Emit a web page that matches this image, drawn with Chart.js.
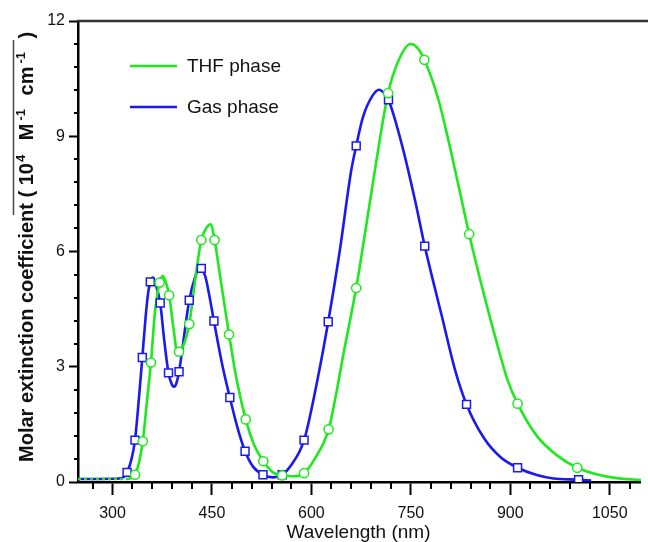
<!DOCTYPE html>
<html>
<head>
<meta charset="utf-8">
<script src="https://cdn.jsdelivr.net/npm/chart.js@4.4.1/dist/chart.umd.min.js"></script>
<style>
  html, body { margin: 0; padding: 0; background: #fff; overflow: hidden; }
  #wrap { width: 648px; height: 542px; position: relative; }
</style>
</head>
<body>
<div id="wrap"><canvas id="c" width="648" height="542"></canvas></div>
<script>
// Absorption spectra: wavelength (nm) vs molar extinction coefficient (10^4 M^-1 cm^-1)

// Gas phase spectrum (line)
const gasNm  = [248, 280, 310, 318, 322, 328, 334, 340, 345, 350, 354, 357, 361, 365, 372, 378, 384.5, 390, 393, 396, 400.4, 408, 415.8, 425, 432, 434, 440, 445, 453, 465, 477, 488, 500, 512, 527, 542, 556, 570, 589, 608, 625.4, 643, 660, 667.6, 678, 692, 702, 710, 716.3, 737, 757, 771, 797, 817, 834, 860, 885, 911, 940, 965, 1003, 1022];
const gasVal = [0.08, 0.08, 0.09, 0.14, 0.25, 0.55, 1.09, 2.2, 3.24, 4.3, 4.95, 5.21, 5.32, 5.15, 4.66, 3.7, 2.84, 2.52, 2.48, 2.55, 2.87, 3.8, 4.73, 5.35, 5.58, 5.56, 5.35, 4.95, 4.19, 3.1, 2.2, 1.45, 0.8, 0.4, 0.19, 0.12, 0.19, 0.45, 1.09, 2.56, 4.17, 6.04, 8.1, 8.75, 9.51, 10.05, 10.21, 10.12, 9.95, 8.75, 7.28, 6.14, 4.3, 2.9, 2.02, 1.15, 0.65, 0.37, 0.18, 0.09, 0.06, 0.04];

// Gas phase markers
const gasMarkNm  = [322, 334, 345, 357, 372, 384.5, 400.4, 415.8, 434, 453, 477, 500, 527, 556, 589, 625.4, 667.6, 716.3, 771, 834, 911, 1003];
const gasMarkVal = [0.25, 1.09, 3.24, 5.21, 4.66, 2.84, 2.87, 4.73, 5.56, 4.19, 2.2, 0.8, 0.19, 0.19, 1.09, 4.17, 8.75, 9.95, 6.14, 2.02, 0.37, 0.06];

// THF phase spectrum (line)
const thfNm  = [248, 300, 322, 330, 334, 340, 345.7, 352, 358, 364, 371, 376, 380, 385.5, 392, 398, 400.4, 408, 415.8, 425, 434, 442, 448, 454, 462, 475.8, 488, 501, 514, 527.5, 542, 556, 572, 589, 605, 626, 638, 648, 667.6, 676.6, 697.5, 715.7, 732, 749.6, 760, 770.4, 791.7, 806.6, 824, 838, 860, 880, 896, 911, 940, 970, 1001, 1030, 1060, 1097];
const thfVal = [0.08, 0.08, 0.08, 0.12, 0.19, 0.5, 1.06, 2.1, 3.11, 4.4, 5.19, 5.36, 5.22, 4.86, 4.0, 3.37, 3.39, 3.6, 4.11, 5.3, 6.3, 6.62, 6.71, 6.3, 5.4, 3.84, 2.6, 1.63, 0.95, 0.54, 0.25, 0.17, 0.15, 0.23, 0.6, 1.37, 2.35, 3.3, 5.05, 6.0, 8.3, 10.12, 10.99, 11.4, 11.3, 10.99, 9.95, 8.9, 7.55, 6.45, 4.9, 3.6, 2.65, 2.04, 1.2, 0.7, 0.37, 0.2, 0.1, 0.05];

// THF phase markers
const thfMarkNm  = [334, 345.7, 358, 371, 385.5, 400.4, 415.8, 434, 454, 475.8, 501, 527.5, 556, 589, 626, 667.6, 715.7, 770.4, 838, 911, 1001];
const thfMarkVal = [0.19, 1.06, 3.11, 5.19, 4.86, 3.39, 4.11, 6.3, 6.3, 3.84, 1.63, 0.54, 0.17, 0.23, 1.37, 5.05, 10.12, 10.99, 6.45, 2.04, 0.37];

// Axis ticks
const xMajorTicks = [300, 450, 600, 750, 900, 1050];
const xMinorTicks = [270, 330, 360, 390, 420, 480, 510, 540, 570, 630, 660, 690, 720, 780, 810, 840, 870, 930, 960, 990, 1020, 1080];
const yMajorTicks = [0, 3, 6, 9, 12];
const yMinorTicks = [0.6, 1.2, 1.8, 2.4, 3.6, 4.2, 4.8, 5.4, 6.6, 7.2, 7.8, 8.4, 9.6, 10.2, 10.8, 11.4];

const seriesNames = ['THF phase', 'Gas phase'];
const GREEN = '#1fe81f';
const BLUE = '#1a1af0';

const toXY = (xs, ys) => xs.map((x, i) => ({ x, y: ys[i] }));

const FONT = '"Liberation Sans", Arial, sans-serif';

// Minor ticks, top frame line, axis titles and legend
const decorations = {
  id: 'decorations',
  afterDraw(chart) {
    const ctx = chart.ctx;
    const xs = chart.scales.x, ys = chart.scales.y;
    const area = chart.chartArea;
    ctx.save();
    ctx.strokeStyle = '#000';
    ctx.lineWidth = 2;
    xMinorTicks.forEach(v => {
      const px = Math.round(xs.getPixelForValue(v));
      ctx.beginPath();
      ctx.moveTo(px, area.bottom);
      ctx.lineTo(px, area.bottom + 7);
      ctx.stroke();
    });
    yMinorTicks.forEach(v => {
      const py = Math.round(ys.getPixelForValue(v));
      ctx.beginPath();
      ctx.moveTo(area.left, py);
      ctx.lineTo(area.left - 4, py);
      ctx.stroke();
    });
    // top frame
    ctx.strokeStyle = '#333';
    ctx.lineWidth = 2.5;
    ctx.beginPath();
    ctx.moveTo(area.left - 1, area.top);
    ctx.lineTo(chart.width, area.top);
    ctx.stroke();

    // x title
    ctx.fillStyle = '#111';
    ctx.font = '19px ' + FONT;
    ctx.textAlign = 'center';
    ctx.textBaseline = 'middle';
    ctx.fillText('Wavelength (nm)', 358.5, 533);

    // y title with superscripts: [text, superscript?, gap after]
    const parts = [
      ['Molar extinction coefficient ( 10', false, 1],
      ['4', true, 9],
      [' M', false, 3],
      ['-1', true, 8],
      [' cm', false, 3],
      ['-1', true, 8],
      [' )', false, 0]
    ];
    const mainFont = 'bold 20px ' + FONT;
    const supFont = 'bold 13px ' + FONT;
    ctx.save();
    ctx.translate(26, 462);
    ctx.rotate(-Math.PI / 2);
    ctx.textAlign = 'left';
    ctx.textBaseline = 'alphabetic';
    let u = 0;
    parts.forEach(([t, sup, gap]) => {
      ctx.font = sup ? supFont : mainFont;
      ctx.fillText(t, u, sup ? -1 : 7);
      u += ctx.measureText(t).width + gap;
    });
    ctx.restore();

    // thin rule beside the unit text
    ctx.strokeStyle = '#444';
    ctx.lineWidth = 1.5;
    ctx.beginPath();
    ctx.moveTo(13.5, 40);
    ctx.lineTo(13.5, 215);
    ctx.stroke();

    // legend
    const legend = [[seriesNames[0], GREEN, 66], [seriesNames[1], BLUE, 107]];
    ctx.font = '19px ' + FONT;
    ctx.textAlign = 'left';
    ctx.textBaseline = 'middle';
    legend.forEach(([name, col, y]) => {
      ctx.strokeStyle = col;
      ctx.lineWidth = 2.5;
      ctx.beginPath();
      ctx.moveTo(130, y);
      ctx.lineTo(177, y);
      ctx.stroke();
      ctx.fillStyle = '#111';
      ctx.fillText(name, 187, y + 1);
    });
    ctx.restore();
  }
};

new Chart(document.getElementById('c'), {
  type: 'scatter',
  data: {
    datasets: [
      {
        label: seriesNames[0] + ' markers',
        data: toXY(thfMarkNm, thfMarkVal),
        showLine: false,
        pointStyle: 'circle',
        pointRadius: 4.6,
        borderColor: GREEN,
        backgroundColor: '#fff',
        borderWidth: 1.5,
        order: 1
      },
      {
        label: seriesNames[1] + ' markers',
        data: toXY(gasMarkNm, gasMarkVal),
        showLine: false,
        pointStyle: 'rect',
        pointRadius: 5.6,
        borderColor: BLUE,
        backgroundColor: '#fff',
        borderWidth: 1.5,
        order: 2
      },
      {
        label: seriesNames[0],
        data: toXY(thfNm, thfVal),
        showLine: true,
        pointRadius: 0,
        borderColor: GREEN,
        borderWidth: 2.6,
        cubicInterpolationMode: 'monotone',
        segment: { borderDash: c => (c.p0.parsed.x < 320 ? [3, 3] : undefined) },
        order: 3
      },
      {
        label: seriesNames[1],
        data: toXY(gasNm, gasVal),
        showLine: true,
        pointRadius: 0,
        borderColor: BLUE,
        borderWidth: 2.6,
        cubicInterpolationMode: 'monotone',
        order: 4
      }
    ]
  },
  options: {
    responsive: false,
    animation: false,
    devicePixelRatio: 1,
    layout: { padding: { top: 21, right: 0, left: 0, bottom: 0 } },
    plugins: { legend: { display: false }, tooltip: { enabled: false } },
    scales: {
      x: {
        type: 'linear',
        min: 248,
        max: 1097,
        afterBuildTicks: s => { s.ticks = xMajorTicks.map(v => ({ value: v })); },
        afterFit: s => { s.height = 60; },
        ticks: {
          color: '#111',
          font: { family: FONT, size: 16 },
          padding: 9,
          maxRotation: 0,
          autoSkip: false,
          callback: v => String(v)
        },
        grid: { drawOnChartArea: false, tickLength: 13, tickWidth: 2, tickColor: '#000' },
        border: { color: '#000', width: 2.5 }
      },
      y: {
        min: 0,
        max: 12,
        afterBuildTicks: s => { s.ticks = yMajorTicks.map(v => ({ value: v })); },
        afterFit: s => { s.width = 78; },
        ticks: {
          color: '#111',
          font: { family: FONT, size: 16 },
          padding: 4,
          callback: v => String(v)
        },
        grid: { drawOnChartArea: false, tickLength: 9, tickWidth: 2, tickColor: '#000' },
        border: { color: '#000', width: 2.5 }
      }
    }
  },
  plugins: [decorations]
});
</script>
</body>
</html>
